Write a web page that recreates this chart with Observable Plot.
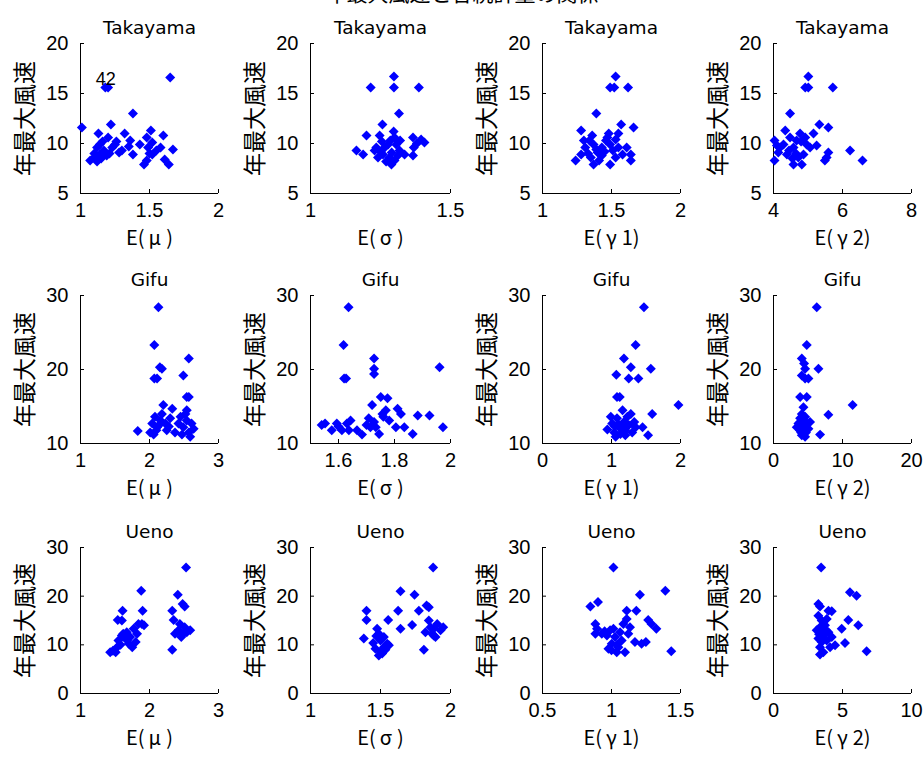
<!DOCTYPE html>
<html><head><meta charset="utf-8">
<script src="https://cdn.jsdelivr.net/npm/d3@7"></script>
<script src="https://cdn.jsdelivr.net/npm/@observablehq/plot@0.6"></script>
<style>
body{margin:0;background:#fff;}
#fig{position:relative;width:924px;height:757px;overflow:hidden;background:#fff;}
#fig svg{position:absolute;}
#title{position:absolute;left:0;width:924px;text-align:center;top:-23px;font:21px "Noto Sans CJK JP";color:#000;line-height:30px;}
</style></head><body>
<div id="fig"><div id="title">年最大風速と各統計量の関係</div></div>
<script>
const stations = ["Takayama", "Gifu", "Ueno"];
const xLabels = ["E(μ)", "E(σ)", "E(γ1)", "E(γ2)"];
const yLabel = "年最大風速";
const yDomains = [[5, 20], [10, 30], [0, 30]];
const yTicks = [[5, 10, 15, 20], [10, 20, 30], [0, 10, 20, 30]];
const xDomains = [
  [[1, 2], [1, 1.5], [1, 2], [4, 8]],
  [[1, 3], [1.5, 2], [0, 2], [0, 20]],
  [[1, 3], [1, 2], [0.5, 1.5], [0, 10]]
];
const xTicks = [
  [[1, 1.5, 2], [1, 1.5], [1, 1.5, 2], [4, 6, 8]],
  [[1, 2, 3], [1.6, 1.8, 2], [0, 1, 2], [0, 10, 20]],
  [[1, 2, 3], [1, 1.5, 2], [0.5, 1, 1.5], [0, 5, 10]]
];
const labelText = ["42"];
const labelX = [1.11];
const labelY = [16.4];

const takayamaMu = [[1.01,11.6],[1.18,15.6],[1.20,15.6],[1.65,16.6],[1.38,13.0],[1.22,11.9],[1.13,11.0],[1.07,8.3],[1.10,8.6],[1.12,9.6],[1.14,8.9],[1.17,9.3],[1.19,8.8],[1.14,9.9],[1.23,9.6],[1.20,10.6],[1.25,9.9],[1.28,9.1],[1.30,9.3],[1.32,11.0],[1.36,10.3],[1.38,8.9],[1.43,9.9],[1.48,10.6],[1.51,11.3],[1.49,9.6],[1.52,10.1],[1.46,7.9],[1.48,8.3],[1.52,8.9],[1.55,9.3],[1.58,9.6],[1.60,10.8],[1.61,8.4],[1.64,7.9],[1.67,9.4],[1.10,9.0],[1.15,8.5],[1.21,9.0],[1.26,10.2],[1.35,9.7],[1.50,9.0],[1.16,10.2],[1.12,8.2]];
const takayamaSigma = [[1.215,15.6],[1.298,16.7],[1.298,15.6],[1.387,15.6],[1.316,13.0],[1.257,11.9],[1.20,10.8],[1.247,10.8],[1.297,11.2],[1.30,10.6],[1.366,10.6],[1.395,10.4],[1.407,10.1],[1.164,9.3],[1.188,8.9],[1.235,9.6],[1.265,9.6],[1.277,9.9],[1.306,9.9],[1.318,9.3],[1.241,8.6],[1.259,8.9],[1.283,8.6],[1.289,7.9],[1.277,8.3],[1.30,8.3],[1.336,8.9],[1.366,8.8],[1.369,9.6],[1.312,8.8],[1.229,9.3],[1.25,9.2],[1.27,8.2],[1.29,9.1],[1.32,10.3],[1.38,10.0],[1.255,10.2],[1.285,10.3]];
const takayamaG1 = [[1.53,16.7],[1.49,15.6],[1.52,15.6],[1.62,15.6],[1.39,13.0],[1.28,11.3],[1.57,11.9],[1.66,11.6],[1.55,11.0],[1.24,8.3],[1.28,8.9],[1.31,9.6],[1.34,10.3],[1.36,10.8],[1.35,8.6],[1.37,7.9],[1.40,9.1],[1.43,9.6],[1.46,10.3],[1.48,11.0],[1.49,9.9],[1.51,9.3],[1.49,7.9],[1.53,8.6],[1.55,9.6],[1.58,8.9],[1.61,9.6],[1.64,8.9],[1.64,8.3],[1.41,8.3],[1.30,10.3],[1.37,9.9],[1.43,8.8],[1.47,10.6],[1.53,10.4],[1.45,9.2],[1.39,9.4],[1.33,9.0]];
const takayamaG2 = [[5.01,16.7],[4.92,15.6],[5.01,15.6],[5.72,15.6],[4.48,13.0],[5.33,11.9],[5.59,11.6],[5.16,11.0],[4.03,10.3],[4.03,8.3],[4.34,11.3],[4.19,9.6],[4.39,8.9],[4.58,9.6],[4.67,10.3],[4.77,11.0],[4.58,7.9],[4.82,7.9],[4.87,8.9],[4.96,9.9],[5.06,9.6],[5.25,9.8],[4.48,10.6],[4.29,9.9],[4.72,8.6],[4.14,9.1],[4.92,10.6],[5.59,9.1],[5.49,8.3],[5.54,8.6],[6.22,9.3],[6.58,8.3],[4.45,9.3],[4.65,9.0],[4.80,10.2],[4.10,9.8],[4.55,8.5]];
const gifuMu = [[2.13,28.4],[2.07,23.3],[2.15,20.3],[2.18,20.1],[2.07,18.8],[2.11,18.8],[2.57,21.5],[2.49,19.2],[2.54,16.3],[2.57,16.3],[2.20,15.2],[2.33,14.7],[1.83,11.7],[2.04,12.7],[2.08,13.6],[2.01,11.5],[2.11,12.2],[2.16,13.1],[2.23,12.7],[2.25,11.8],[2.18,14.0],[2.06,11.2],[2.30,13.4],[2.37,11.5],[2.42,12.7],[2.45,13.6],[2.49,12.2],[2.52,14.0],[2.54,13.1],[2.57,11.5],[2.61,12.7],[2.64,12.0],[2.59,10.9],[2.47,11.2],[2.54,14.5],[2.10,11.8],[2.14,12.5],[2.28,12.3]];
const gifuSigma = [[1.636,28.4],[1.618,23.3],[1.620,18.8],[1.627,18.8],[1.727,21.5],[1.727,20.1],[1.727,19.4],[1.961,20.3],[1.54,12.5],[1.552,12.7],[1.576,11.8],[1.594,12.7],[1.612,11.8],[1.630,12.7],[1.643,13.1],[1.637,11.8],[1.666,11.8],[1.684,11.2],[1.708,13.4],[1.714,12.2],[1.720,15.2],[1.727,12.9],[1.733,12.2],[1.745,11.3],[1.751,16.3],[1.757,14.0],[1.769,14.5],[1.775,16.1],[1.781,13.1],[1.805,12.2],[1.811,14.7],[1.823,14.0],[1.835,12.2],[1.865,11.3],[1.883,13.8],[1.925,13.8],[1.973,12.2],[1.60,12.3],[1.70,12.5],[1.76,13.6]];
const gifuG1 = [[1.47,28.4],[1.35,23.3],[1.18,21.5],[1.28,20.3],[1.57,20.1],[1.07,19.3],[1.25,18.8],[1.39,18.8],[1.08,16.3],[1.12,16.3],[1.97,15.2],[1.59,14.0],[1.45,12.2],[1.53,11.1],[0.94,11.9],[1.01,12.7],[1.04,11.5],[1.08,13.4],[1.11,12.2],[1.13,11.3],[1.16,14.5],[1.18,12.9],[1.20,11.8],[1.23,13.6],[1.25,12.5],[1.28,14.0],[1.30,11.5],[1.33,12.9],[1.35,12.2],[1.06,10.9],[1.20,11.1],[0.99,13.6],[1.10,12.6],[1.15,12.0],[1.22,12.3],[1.05,12.3]];
const gifuG2 = [[6.27,28.4],[4.82,23.3],[4.10,21.5],[4.43,20.8],[4.58,20.1],[6.51,20.1],[4.10,19.2],[4.58,18.8],[5.06,18.8],[3.86,16.3],[4.82,16.3],[11.47,15.2],[7.95,13.9],[6.75,11.2],[4.34,14.9],[4.10,14.0],[3.86,13.4],[4.58,13.6],[3.61,12.7],[4.82,12.7],[3.86,11.8],[5.06,12.0],[4.10,11.1],[4.58,10.9],[3.37,12.2],[5.30,12.9],[4.34,11.6],[4.2,12.4],[4.5,13.0],[3.9,12.9],[4.7,11.5],[4.0,11.5]];
const uenoMu = [[2.53,25.9],[1.88,21.1],[2.41,20.3],[2.48,18.4],[2.51,17.9],[1.61,17.0],[1.90,17.0],[2.33,17.0],[1.54,15.1],[1.60,15.0],[2.35,15.1],[1.92,14.0],[1.89,14.3],[1.43,8.5],[1.51,8.5],[1.53,9.5],[1.55,10.9],[1.60,11.9],[1.67,12.6],[1.72,11.6],[1.70,10.2],[1.75,9.5],[1.80,10.6],[1.82,12.3],[1.77,13.3],[1.65,11.3],[1.84,14.3],[2.33,9.0],[2.37,12.3],[2.42,13.0],[2.46,11.6],[2.51,13.6],[2.54,12.6],[2.59,13.0],[2.49,12.3],[2.44,14.3],[1.47,8.8],[1.58,10.0],[1.68,11.0],[1.62,12.3]];
const uenoSigma = [[1.876,25.9],[1.643,21.0],[1.743,20.3],[1.40,17.0],[1.626,17.0],[1.774,17.0],[1.829,18.1],[1.845,17.7],[1.40,15.1],[1.555,15.1],[1.726,14.1],[1.643,13.3],[1.381,11.3],[1.448,10.4],[1.476,13.3],[1.488,12.3],[1.50,10.9],[1.464,9.2],[1.524,9.5],[1.548,10.2],[1.512,8.2],[1.488,7.8],[1.56,9.9],[1.524,11.6],[1.81,9.0],[1.845,15.0],[1.857,13.6],[1.869,12.3],[1.88,13.3],[1.893,11.6],[1.905,14.3],[1.929,13.0],[1.948,13.6],[1.821,12.6],[1.88,11.9],[1.50,8.6],[1.535,9.0],[1.47,11.8]];
const uenoG1 = [[1.014,25.9],[1.206,20.3],[1.39,21.1],[0.847,17.9],[0.902,18.8],[1.433,8.7],[1.11,17.0],[1.18,17.0],[1.266,15.1],[1.29,14.3],[1.325,13.3],[1.17,10.6],[1.218,10.2],[1.249,10.6],[0.883,14.3],[0.895,13.3],[0.883,12.3],[0.93,12.3],[0.967,11.9],[0.99,13.0],[1.014,13.3],[1.026,11.6],[1.002,10.2],[0.978,9.2],[1.038,8.5],[1.05,9.5],[1.074,10.9],[1.098,8.5],[1.086,14.3],[1.11,15.3],[1.134,13.6],[1.122,12.3],[1.062,12.6],[0.95,12.8],[1.04,10.0],[1.00,8.9]];
const uenoG2 = [[3.45,25.9],[3.25,18.4],[3.37,17.9],[3.98,17.0],[4.22,16.9],[5.54,20.8],[6.02,20.1],[5.42,15.1],[6.14,14.0],[4.94,13.3],[6.75,8.7],[5.18,10.4],[4.46,9.9],[3.25,16.0],[3.49,15.0],[3.86,15.3],[3.13,13.0],[3.37,13.6],[3.73,14.0],[3.98,12.6],[3.61,11.9],[3.25,11.3],[3.49,10.6],[3.86,10.9],[3.37,9.5],[3.61,8.5],[3.37,8.0],[4.22,11.6],[4.10,9.5],[3.5,12.5],[3.8,13.0],[3.3,12.2]];

const panelData = [
  [takayamaMu, takayamaSigma, takayamaG1, takayamaG2],
  [gifuMu, gifuSigma, gifuG1, gifuG2],
  [uenoMu, uenoSigma, uenoG1, uenoG2]
];

// layout (pixels)
const colLeft = [80, 310, 542, 773];
const colWidth = [138, 140, 138, 138];
const rowTop = [43, 295, 547];
const rowHeight = [150, 148, 146];
const ML = 72, MR = 14, MT = 40, MB = 64;
const latin = "'Liberation Sans', Arial, sans-serif";
const titleFont = "'DejaVu Sans', sans-serif";
const cjk = "'Noto Sans CJK JP', sans-serif";

const fig = document.getElementById("fig");
for (let r = 0; r < 3; r++) {
  for (let c = 0; c < 4; c++) {
    const xd = xDomains[r][c];
    const yd = yDomains[r];
    const marks = [
      Plot.ruleX([xd[0]], {stroke: "black", strokeWidth: 1}),
      Plot.ruleY([yd[0]], {stroke: "black", strokeWidth: 1}),
      Plot.dot(panelData[r][c], {x: d => d[0], y: d => d[1], symbol: "diamond2", r: 4.5, fill: "#0000ff", stroke: "none"}),
      Plot.text([stations[r]], {frameAnchor: "top", textAnchor: "middle", dy: -23, fontSize: 18.5, fontWeight: "normal", fontFamily: titleFont, fill: "black"}),
      Plot.text([xLabels[c]], {frameAnchor: "bottom", textAnchor: "middle", dy: 51, fontSize: 20, fontWeight: "normal", fontFamily: cjk, fill: "black"}),
      Plot.text([yLabel], {frameAnchor: "left", textAnchor: "middle", rotate: -90, dx: -55, fontSize: 23, fontWeight: "normal", fontFamily: cjk, fill: "black"})
    ];
    if (r === 0 && c === 0) {
      marks.push(Plot.text(labelText, {x: (d, i) => labelX[i], y: (d, i) => labelY[i], textAnchor: "start", fontSize: 18, fontWeight: "normal", fontFamily: latin, fill: "black"}));
    }
    const svg = Plot.plot({
      width: colWidth[c] + ML + MR,
      height: rowHeight[r] + MT + MB,
      marginLeft: ML, marginRight: MR, marginTop: MT, marginBottom: MB,
      style: {fontFamily: latin, fontSize: "20px", color: "black", background: "transparent", overflow: "visible"},
      x: {domain: xd, ticks: xTicks[r][c], tickFormat: d => String(d), tickSize: -4, tickPadding: 13, label: null},
      y: {domain: yd, ticks: yTicks[r], tickFormat: d => String(d), tickSize: -4, tickPadding: 16, label: null},
      marks
    });
    // give the Greek letter of the x label a full-width slot, as in the original Japanese font
    d3.select(svg).selectAll("text")
      .filter(function () { return this.textContent === xLabels[c]; })
      .each(function () {
        const t = d3.select(this);
        const s = this.textContent;
        t.text(null);
        let afterGreek = false;
        for (const ch of s) {
          const sp = t.append("tspan").text(ch);
          const greek = /[\u0370-\u03ff]/.test(ch);
          if (greek) sp.attr("dx", 4);
          else if (afterGreek) sp.attr("dx", 5);
          afterGreek = greek;
        }
      });
    svg.style.left = (colLeft[c] - ML) + "px";
    svg.style.top = (rowTop[r] - MT) + "px";
    fig.appendChild(svg);
  }
}
</script>
</body></html>
